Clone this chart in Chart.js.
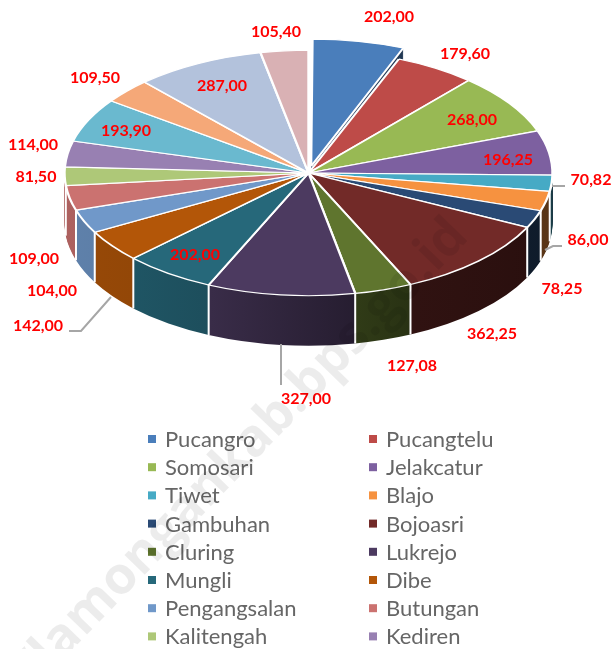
<!DOCTYPE html>
<html>
<head>
<meta charset="utf-8">
<style>
html,body{margin:0;padding:0;background:#fff;overflow:hidden}
canvas{display:block;filter:blur(0.4px)}
</style>
<script src="https://cdn.jsdelivr.net/npm/chart.js@4"></script>
</head>
<body>
<canvas id="c" width="614" height="649"></canvas>
<script>
// ----- data -----
const categories = ["Pucangro","Pucangtelu","Somosari","Jelakcatur","Tiwet","Blajo","Gambuhan","Bojoasri","Cluring","Lukrejo","Mungli","Dibe","Pengangsalan","Butungan","Kalitengah","Kediren"];
const values = [202.00,179.60,268.00,196.25,70.82,86.00,78.25,362.25,127.08,327.00,202.00,142.00,104.00,109.00,81.50,114.00,193.90,109.50,287.00,105.40];
const valueTexts = ["202,00","179,60","268,00","196,25","70,82","86,00","78,25","362,25","127,08","327,00","202,00","142,00","104,00","109,00","81,50","114,00","193,90","109,50","287,00","105,40"];

// ----- styles -----
const colors = ["#4a7ebb","#be4b48","#98b954","#7d60a0","#46aac5","#f69240","#2a4a75","#722a28","#5f752e","#4c3a60","#26687a","#b35608","#7098c9","#cb7270","#aec878","#9880b2","#6ab9cf","#f5a878","#b3c2dc","#d9b1b4"];
const explode = [55,0,0,0,0,0,0,0,0,0,0,0,0,0,0,0,0,0,0,0];
const TOP_Y = 173, SQUASH = 0.503, DEPTH = 50;
const shadeStops = [[0,.85],[.14,.82],[.3,.75],[.6,.5],[.72,.42],[1,.36]];
// label centres, as [x, y] on the page, in the order of values
const labelAnchors = [[389,17],[465,54],[472,120],[508,160],[591,180],[588,240],[562,289],[492,334],[412,366],[306,399],[195,255],[38,326],[52,291],[34,259],[36,177],[33,145],[126,131],[95,78],[222,86],[276,32]];
const leaders = [[[552,186],[565,186]],[[545,250],[553,246],[562,246]],[[69,331],[81,331],[111,297]],[[281,344],[281,385]]];
const legendCols = [148,369], legendTop = 439, legendStep = 28.2;

function rgb(hex){return [1,3,5].map(i=>parseInt(hex.substr(i,2),16));}

const pie3d = {
  id:'pie3d',
  beforeDatasetsDraw(chart){
    const ctx = chart.ctx, arcs = chart.getDatasetMeta(0).data, cx = arcs[0].x, cy = arcs[0].y, R = arcs[0].outerRadius;
    ctx.save();
    ctx.translate(0,TOP_Y); ctx.scale(1,SQUASH); ctx.translate(0,-cy);
    // side wall: the library's arcs, repeated downward with a darker fill
    const walls = arcs.map((a,i)=>{
      // the sliver of Kalitengah at the left silhouette takes its neighbour's wall colour
      const g = ctx.createLinearGradient(cx-R,0,cx+R,0), c = rgb(colors[i===14?13:i]);
      shadeStops.forEach(s=>g.addColorStop(s[0],`rgb(${c.map(v=>Math.round(v*s[1])).join(',')})`));
      return {...a.options,backgroundColor:g,borderWidth:0};
    });
    for(let d=DEPTH;d>=1;d--){
      ctx.save(); ctx.translate(0,d/SQUASH);
      arcs.forEach((a,i)=>{const o=a.options; a.options=walls[i]; a.draw(ctx); a.options=o;});
      ctx.restore();
    }
    // white seams between the wall panels
    ctx.restore();
    ctx.save();
    ctx.strokeStyle='#fff'; ctx.lineWidth=2;
    arcs.forEach(a=>{
      const s=Math.sin(a.startAngle);
      if(s>0.1){
        const x=cx+R*Math.cos(a.startAngle), y=TOP_Y+R*SQUASH*s;
        ctx.beginPath(); ctx.moveTo(x,y); ctx.lineTo(x,y+DEPTH); ctx.stroke();
      }
    });
    ctx.restore();
    ctx.save();
    ctx.translate(0,TOP_Y); ctx.scale(1,SQUASH); ctx.translate(0,-cy);
  },
  afterDatasetsDraw(chart){ chart.ctx.restore(); },
  afterDraw(chart){
    const ctx = chart.ctx;
    ctx.save();
    // leader lines
    ctx.strokeStyle='#a6a6a6'; ctx.lineWidth=2;
    leaders.forEach(l=>{ctx.beginPath();l.forEach((p,i)=>i?ctx.lineTo(p[0],p[1]):ctx.moveTo(p[0],p[1]));ctx.stroke();});
    // value labels
    ctx.fillStyle='#ff0000'; ctx.font='bold 16px Lato'; ctx.textAlign='center'; ctx.textBaseline='middle';
    valueTexts.forEach((t,i)=>ctx.fillText(t,labelAnchors[i][0],labelAnchors[i][1]));
    // legend
    ctx.font='22px Lato'; ctx.textAlign='left';
    categories.forEach((n,i)=>{
      const col=legendCols[i%2], y=legendTop+Math.floor(i/2)*legendStep;
      ctx.fillStyle=colors[i]; ctx.fillRect(col,y-4,8,8);
      ctx.fillStyle='#666666'; ctx.fillText(n,col+17,y+1);
    });
    // watermark
    ctx.translate(470,238); ctx.rotate(-46*Math.PI/180);
    ctx.font='bold 52px "Open Sans"'; ctx.textAlign='right'; ctx.textBaseline='alphabetic';
    ctx.fillStyle='rgba(0,0,0,0.075)';
    ctx.fillText('https://lamongankab.bps.go.id',0,0);
    ctx.restore();
  }
};

new Chart(document.getElementById('c'),{
  type:'pie',
  data:{labels:values.map((v,i)=>categories[i]||''),datasets:[{data:values,backgroundColor:colors,borderColor:'#ffffff',borderWidth:2.4,offset:explode,radius:244,clip:false}]},
  options:{
    responsive:false,animation:false,
    layout:{padding:{left:3}},
    plugins:{legend:{display:false},tooltip:{enabled:false}}
  },
  plugins:[pie3d]
});
</script>
</body>
</html>
